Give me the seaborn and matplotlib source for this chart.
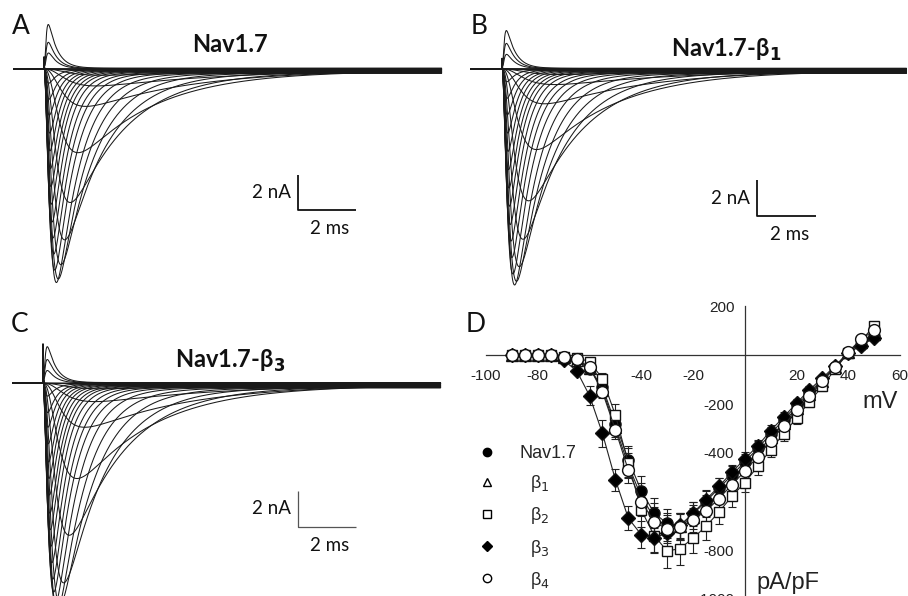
import numpy as np
import pandas as pd
import matplotlib
matplotlib.use("Agg")
import matplotlib.pyplot as plt
import seaborn as sns
from matplotlib.lines import Line2D

# step potentials (mV)
voltages = list(range(-90, 55, 5))

# panel D: peak current density (pA/pF) and SEM
nav17_iv = [0, 0, 0, 0, -8, -20, -55, -130, -280, -428, -556, -647, -690, -700, -651, -600,
            -545, -492, -437, -382, -322, -264, -205, -150, -100, -48, 10, 44, 78]
nav17_sem = [0, 0, 0, 0, 4, 6, 12, 25, 40, 55, 60, 62, 60, 55, 50, 45, 42, 38, 34, 30, 27,
             24, 20, 18, 15, 12, 10, 10, 10]
b1_iv = [0, 0, 0, 0, -6, -17, -50, -140, -295, -450, -580, -665, -703, -702, -664, -620,
         -566, -512, -456, -398, -336, -276, -214, -159, -104, -48, 13, 55, 90]
b1_sem = [0, 0, 0, 0, 4, 6, 12, 25, 40, 50, 55, 58, 58, 55, 50, 45, 40, 36, 32, 28, 25,
          22, 20, 18, 15, 12, 10, 10, 10]
b2_iv = [0, 0, 0, 0, -5, -10, -25, -95, -245, -442, -634, -740, -803, -793, -750, -702,
         -643, -579, -522, -456, -387, -322, -257, -190, -127, -55, 10, 60, 122]
b2_sem = [0, 0, 0, 0, 3, 5, 10, 22, 45, 60, 70, 72, 70, 68, 62, 55, 50, 45, 40, 35, 32,
          28, 24, 20, 17, 14, 12, 12, 12]
b3_iv = [0, 0, 0, 0, -20, -62, -165, -320, -510, -668, -736, -750, -728, -698, -648, -592,
         -538, -480, -425, -371, -309, -253, -196, -141, -93, -42, 12, 40, 72]
b3_sem = [0, 0, 0, 0, 6, 12, 40, 55, 45, 50, 55, 58, 55, 50, 45, 40, 36, 32, 28, 25, 22,
          20, 18, 16, 14, 12, 10, 10, 10]
b4_iv = [0, 0, 0, 0, -5, -15, -48, -150, -305, -471, -600, -682, -714, -704, -675, -639,
         -588, -531, -476, -415, -350, -289, -223, -168, -107, -48, 15, 67, 103]
b4_sem = [0, 0, 0, 0, 4, 6, 12, 25, 40, 52, 58, 60, 58, 55, 50, 45, 40, 36, 32, 28, 25,
          22, 20, 18, 15, 12, 10, 10, 10]

# panels A-C: peak current of each raw trace (nA)
peaks_A = [0, 0, 0, -0.02, -0.12, -0.35, -0.95, -2.1, -4.7, -7.5, -9.6, -11.0, -11.8, -12.0,
           -11.3, -10.4, -9.5, -8.6, -7.6, -6.6, -5.6, -4.6, -3.6, -2.6, -1.7, -0.8, 0.9, 1.5, 2.5]
peaks_B = [0, 0, 0, -0.02, -0.1, -0.3, -0.85, -1.9, -4.4, -7.2, -9.3, -10.8, -11.6, -11.8,
           -11.2, -10.3, -9.4, -8.5, -7.5, -6.5, -5.5, -4.5, -3.5, -2.5, -1.6, -0.7, 0.8, 1.4, 2.1]
peaks_C = [0, 0, 0, -0.05, -0.3, -1.0, -2.4, -5.2, -8.3, -10.9, -12.1, -12.4, -12.0, -11.4,
           -10.7, -9.8, -8.9, -8.0, -7.1, -6.1, -5.2, -4.3, -3.3, -2.4, -1.6, -0.7, 0.7, 1.3, 2.0]

# activation / inactivation time constants for each step (ms)
tau_m = [0.8, 0.8, 0.8, 0.75, 0.7, 0.62, 0.55, 0.45, 0.38, 0.30, 0.24, 0.20, 0.17, 0.15, 0.13,
         0.12, 0.11, 0.10, 0.09, 0.085, 0.08, 0.075, 0.07, 0.066, 0.062, 0.058, 0.055, 0.052, 0.05]
tau_h = [8, 8, 7, 6.5, 6, 5.2, 4.5, 3.5, 2.6, 1.9, 1.45, 1.15, 0.95, 0.8, 0.7, 0.62, 0.56, 0.5,
         0.46, 0.43, 0.4, 0.37, 0.35, 0.33, 0.31, 0.3, 0.29, 0.29, 0.3]

scale_nA = 2
scale_ms = 2

W, H = 908, 596

sns.set_theme(style="white")
plt.rcParams['font.family'] = ['Liberation Sans', 'DejaVu Sans']
plt.rcParams['mathtext.fontset'] = 'dejavusans'

fig = plt.figure(figsize=(W / 100, H / 100), dpi=100)
fig.patch.set_facecolor('white')


def px_axes(left, top, w, h):
    return fig.add_axes([left / W, (H - top - h) / H, w / W, h / H])


def sodium_trace(t, peak, tm, th, cap):
    tt = np.clip(t, 0, None)
    act = (1 - np.exp(-tt / tm)) ** 3
    g = act * np.exp(-tt / th)
    g = g / g.max()
    return np.where(t >= 0, peak * (g + 0.02 * act) + cap * np.exp(-tt / 0.012), 0.0)


t = np.arange(-1.05, 13.72, 0.01)


def trace_panel(box, onset, base, ppm, ppn, peaks, shift, cap, bar, bar_style):
    left, top, w, h = box
    ax = px_axes(left, top, w, h)
    frames = []
    n = len(voltages)
    for i, v in enumerate(voltages):
        k = min(i + shift, n - 1)
        y = sodium_trace(t, peaks[i], tau_m[k], tau_h[k], cap * (i + 1) / n)
        frames.append(pd.DataFrame({'t': t, 'I': y, 'V': v}))
    df = pd.concat(frames, ignore_index=True)
    sns.lineplot(data=df, x='t', y='I', units='V', estimator=None, color='#1a1a1a',
                 lw=0.75, ax=ax, legend=False)
    ax.set_xlim((left - onset) / ppm, (left + w - onset) / ppm)
    ax.set_ylim(-(top + h - base) / ppn, (base - top) / ppn)
    ax.set_axis_off()
    # scale bar
    t0, i0 = bar
    ax.plot([t0, t0, t0 + scale_ms], [i0 + scale_nA, i0, i0], **bar_style)
    ax.text(t0 - 0.25, i0 + scale_nA / 2, f'{scale_nA} nA', ha='right', va='center',
            fontsize=13.5, family=['Lato', 'DejaVu Sans'], color='#111')
    ax.text(t0 + scale_ms / 2 + 0.1, i0 - 0.55, f'{scale_ms} ms', ha='center', va='top',
            fontsize=13.5, family=['Lato', 'DejaVu Sans'], color='#111')
    return ax


bar_dark = dict(color='#111', lw=1.3, solid_capstyle='butt')
bar_light = dict(color='#555', lw=0.9, solid_capstyle='butt')

trace_panel((0, 0, 450, 290), 44, 69, 29, 17.5, peaks_A, 0, 0.7, (8.76, -8.06), bar_dark)
trace_panel((455, 0, 453, 290), 502, 69, 29.5, 18, peaks_B, 0, 0.6, (8.64, -8.17), bar_dark)
trace_panel((0, 300, 450, 296), 43, 383.3, 29, 18, peaks_C, 1, 2.2, (8.79, -7.98), bar_light)

title_font = dict(fontsize=17, fontweight='bold', family=['Lato', 'DejaVu Sans'],
                  ha='center', va='center', color='#111')
fig.text(230 / W, 1 - 44 / H, 'Nav1.7', **title_font)
fig.text(726 / W, 1 - 50 / H, r'Nav1.7-β$_\mathbf{1}$', **title_font)
fig.text(230 / W, 1 - 361 / H, r'Nav1.7-β$_\mathbf{3}$', **title_font)

letter_font = dict(fontsize=19, family=['Lato', 'DejaVu Sans'], ha='center', va='center',
                   color='#111')
for letter, (x, y) in {'A': (21, 27), 'B': (479, 27), 'C': (20, 324), 'D': (476, 325)}.items():
    fig.text(x / W, 1 - y / H, letter, **letter_font)

# panel D: current-voltage relationship
ax = px_axes(486, 305.5, 414, 293.5)
ax.set_xlim(-100, 60)
ax.set_ylim(-1000, 205)
ax.set_axisbelow(True)

series = [
    ('β$_1$', b1_iv, b1_sem, '^', 'white', 8),
    ('Nav1.7', nav17_iv, nav17_sem, 'o', 'black', 8),
    ('β$_2$', b2_iv, b2_sem, 's', 'white', 7.5),
    ('β$_3$', b3_iv, b3_sem, 'D', 'black', 7),
    ('β$_4$', b4_iv, b4_sem, 'o', 'white', 8.5),
]
for name, iv, sem, mk, fc, ms in series:
    ax.errorbar(voltages, iv, yerr=sem, fmt='none', ecolor='#222', elinewidth=0.8,
                capsize=3, capthick=0.8, zorder=2)
    sns.lineplot(x=voltages, y=iv, color='#222', lw=0.8, marker=mk, markersize=ms,
                 markerfacecolor=fc, markeredgecolor='#111', markeredgewidth=1,
                 ax=ax, zorder=3)

for side in ['top', 'right']:
    ax.spines[side].set_visible(False)
for side in ['left', 'bottom']:
    ax.spines[side].set_position(('data', 0))
    ax.spines[side].set_color('#333')
    ax.spines[side].set_linewidth(0.9)

ax.set_xticks([-100, -80, -60, -40, -20, 0, 20, 40, 60])
ax.set_xticklabels(['-100', '-80', '', '-40', '-20', '', '20', '40', '60'])
ax.set_yticks([200, -200, -400, -600, -800, -1000])
ax.set_yticklabels(['200', '-200', '-400', '', '-800', '-1000'])
ax.tick_params(axis='both', direction='inout', length=9, width=0.9, color='#333',
               labelsize=11, labelcolor='#222')
ax.tick_params(axis='x', pad=5)
ax.tick_params(axis='y', pad=3)
ax.set_xlabel('')
ax.set_ylabel('')
ax.text(52.3, -190, 'mV', fontsize=17, ha='center', va='center', color='#222')
ax.text(4.7, -933, 'pA/pF', fontsize=17, ha='left', va='center', color='#222')

handles = [
    Line2D([], [], ls='none', marker='o', ms=6, mfc='black', mec='black'),
    Line2D([], [], ls='none', marker='^', ms=6, mfc='white', mec='black'),
    Line2D([], [], ls='none', marker='s', ms=5.5, mfc='white', mec='black'),
    Line2D([], [], ls='none', marker='D', ms=5.5, mfc='black', mec='black'),
    Line2D([], [], ls='none', marker='o', ms=6, mfc='white', mec='black'),
]
labels = ['Nav1.7', '  β$_1$', '  β$_2$', '  β$_3$', '  β$_4$']
ax.legend(handles, labels, loc='upper left', bbox_to_anchor=(478 / W, 1 - 445 / H),
          bbox_transform=fig.transFigure, frameon=False, fontsize=13, handlelength=1,
          handletextpad=1.3, labelspacing=0.62, borderpad=0, borderaxespad=0)

fig.savefig('out.png', dpi=100, facecolor='white')
